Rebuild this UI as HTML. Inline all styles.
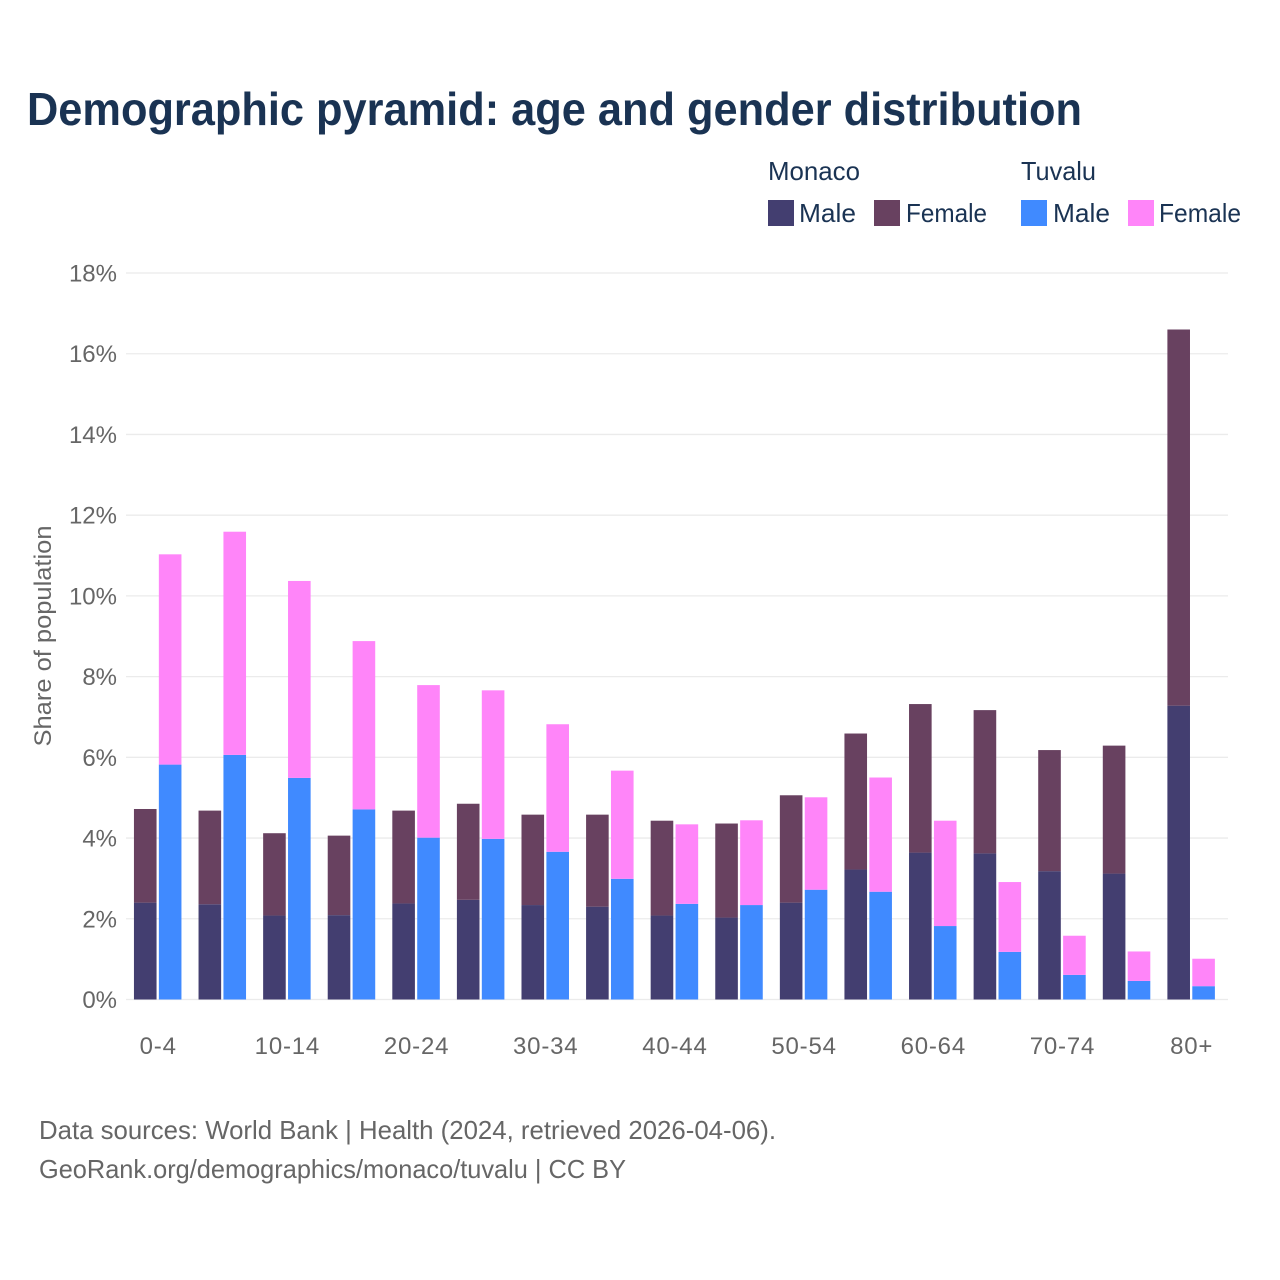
<!DOCTYPE html>
<html lang="en">
<head>
<meta charset="utf-8">
<title>Demographic pyramid: age and gender distribution</title>
<style>
html,body{margin:0;padding:0;background:#fff;width:1280px;height:1280px;overflow:hidden}
svg{display:block}
text{font-family:"Liberation Sans",sans-serif}
</style>
</head>
<body>
<svg id="chart" xmlns="http://www.w3.org/2000/svg" width="1280" height="1280" viewBox="0 0 1280 1280">
  <rect x="0" y="0" width="1280" height="1280" fill="#ffffff"/>
  <text x="27" y="125" font-size="46" font-weight="700" fill="#1a3353" textLength="1055" lengthAdjust="spacingAndGlyphs">Demographic pyramid: age and gender distribution</text>

  <g font-size="26" fill="#1a3353">
    <text x="768" y="180" textLength="92" lengthAdjust="spacingAndGlyphs">Monaco</text>
    <text x="1021" y="180" textLength="75" lengthAdjust="spacingAndGlyphs">Tuvalu</text>
    <rect x="768" y="200" width="26" height="26" fill="#433e70"/>
    <text x="799" y="222" textLength="57" lengthAdjust="spacingAndGlyphs">Male</text>
    <rect x="874" y="200" width="26" height="26" fill="#684160"/>
    <text x="906" y="222" textLength="81" lengthAdjust="spacingAndGlyphs">Female</text>
    <rect x="1021" y="200" width="26" height="26" fill="#408aff"/>
    <text x="1053" y="222" textLength="57" lengthAdjust="spacingAndGlyphs">Male</text>
    <rect x="1128" y="200" width="26" height="26" fill="#ff85f9"/>
    <text x="1159" y="222" textLength="82" lengthAdjust="spacingAndGlyphs">Female</text>
  </g>

  <g id="grid"></g>
  <g id="bars"></g>
  <g id="yticks"></g>
  <g id="xticks"></g>

  <text transform="translate(51,636) rotate(-90)" text-anchor="middle" font-size="24" fill="#666666" textLength="221" lengthAdjust="spacingAndGlyphs">Share of population</text>

  <text x="39" y="1139" font-size="26" fill="#666666" textLength="737" lengthAdjust="spacingAndGlyphs">Data sources: World Bank | Health (2024, retrieved 2026-04-06).</text>
  <text x="39" y="1178" font-size="26" fill="#666666" textLength="587" lengthAdjust="spacingAndGlyphs">GeoRank.org/demographics/monaco/tuvalu | CC BY</text>
</svg>
<script>
const categories = ['0-4','5-9','10-14','15-19','20-24','25-29','30-34','35-39','40-44','45-49','50-54','55-59','60-64','65-69','70-74','75-79','80+'];
const monacoMale = [2.40,2.36,2.08,2.09,2.38,2.47,2.34,2.30,2.08,2.03,2.40,3.22,3.64,3.62,3.18,3.12,7.28];
const monacoFemale = [2.32,2.32,2.04,1.97,2.30,2.38,2.24,2.28,2.35,2.33,2.66,3.37,3.68,3.55,3.00,3.17,9.32];
const tuvaluMale = [5.82,6.06,5.49,4.71,4.01,3.98,3.66,2.99,2.37,2.34,2.72,2.67,1.82,1.18,0.61,0.46,0.33];
const tuvaluFemale = [5.21,5.53,4.88,4.17,3.78,3.68,3.16,2.68,1.97,2.10,2.29,2.83,2.61,1.73,0.97,0.73,0.68];
const yTicks = [0,2,4,6,8,10,12,14,16,18];

const NS = 'http://www.w3.org/2000/svg';
const plotLeft = 126, plotRight = 1228, plotBottom = 999.5, plotTop = 273;
const yMax = 18;
const firstCenter = 157.7, groupStep = 64.59;
const barWidth = 22.6, barOffset = 1.15;

function yScale(v) { return plotBottom - (v / yMax) * (plotBottom - plotTop); }
function xScale(i) { return firstCenter + i * groupStep; }

const grid = document.getElementById('grid');
const yticksG = document.getElementById('yticks');
const xticksG = document.getElementById('xticks');
const barsG = document.getElementById('bars');

yTicks.forEach(function (t) {
  const line = document.createElementNS(NS, 'line');
  
  
  line.setAttribute('x1', plotLeft);
  line.setAttribute('x2', plotRight);
  line.setAttribute('y1', yScale(t));
  line.setAttribute('y2', yScale(t));
  line.setAttribute('stroke', '#ebebeb');
  line.setAttribute('stroke-width', '1.3');
  grid.appendChild(line);

  const label = document.createElementNS(NS, 'text');
  
  
  label.setAttribute('x', 117);
  label.setAttribute('y', yScale(t) + 8.5);
  label.setAttribute('text-anchor', 'end');
  label.setAttribute('font-size', '24');
  label.setAttribute('fill', '#666666');
  label.textContent = t + '%';
  yticksG.appendChild(label);
});

categories.forEach(function (c, i) {
  if (i % 2 === 0) {
    const label = document.createElementNS(NS, 'text');
    
    
    label.setAttribute('x', xScale(i) + 0.5);
    label.setAttribute('y', 1054);
    label.setAttribute('text-anchor', 'middle');
    label.setAttribute('font-size', '24');
    label.setAttribute('letter-spacing', '0.8');
    label.setAttribute('fill', '#666666');
    label.textContent = c;
    xticksG.appendChild(label);
  }

  const left = xScale(i) - barOffset - barWidth;
  const right = xScale(i) + barOffset;

  const mm = document.createElementNS(NS, 'rect');
  
  
  mm.setAttribute('x', left);
  mm.setAttribute('y', yScale(monacoMale[i]));
  mm.setAttribute('width', barWidth);
  mm.setAttribute('height', plotBottom - yScale(monacoMale[i]));
  mm.setAttribute('fill', '#433e70');
  barsG.appendChild(mm);

  const mf = document.createElementNS(NS, 'rect');
  
  
  mf.setAttribute('x', left);
  mf.setAttribute('y', yScale(monacoMale[i] + monacoFemale[i]));
  mf.setAttribute('width', barWidth);
  mf.setAttribute('height', yScale(monacoMale[i]) - yScale(monacoMale[i] + monacoFemale[i]));
  mf.setAttribute('fill', '#684160');
  barsG.appendChild(mf);

  const tm = document.createElementNS(NS, 'rect');
  
  
  tm.setAttribute('x', right);
  tm.setAttribute('y', yScale(tuvaluMale[i]));
  tm.setAttribute('width', barWidth);
  tm.setAttribute('height', plotBottom - yScale(tuvaluMale[i]));
  tm.setAttribute('fill', '#408aff');
  barsG.appendChild(tm);

  const tf = document.createElementNS(NS, 'rect');
  
  
  tf.setAttribute('x', right);
  tf.setAttribute('y', yScale(tuvaluMale[i] + tuvaluFemale[i]));
  tf.setAttribute('width', barWidth);
  tf.setAttribute('height', yScale(tuvaluMale[i]) - yScale(tuvaluMale[i] + tuvaluFemale[i]));
  tf.setAttribute('fill', '#ff85f9');
  barsG.appendChild(tf);
});
</script>
</body>
</html>
